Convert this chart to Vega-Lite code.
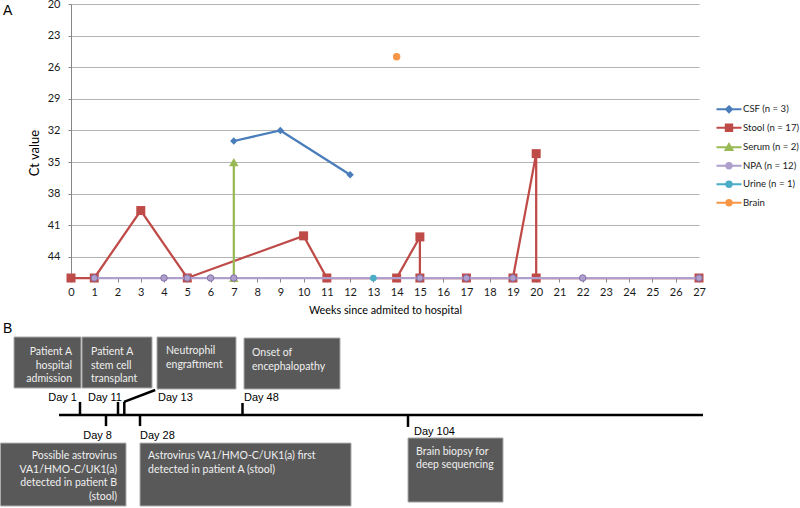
{
  "$schema": "https://vega.github.io/schema/vega-lite/v6.json",
  "background": "white",
  "padding": {"left": 0, "top": -2, "right": 0, "bottom": 0},
  "bounds": "flush",
  "spacing": 59,
  "config": {"view": {"stroke": null}, "font": "Lato"},
  "datasets": {
    "samples": [
      {"series": "CSF (n = 3)", "week": 7, "ct": 33, "seq": 1},
      {"series": "CSF (n = 3)", "week": 9, "ct": 32, "seq": 2},
      {"series": "CSF (n = 3)", "week": 12, "ct": 36.2, "seq": 3},
      {"series": "Stool (n = 17)", "week": 0, "ct": 46, "seq": 1},
      {"series": "Stool (n = 17)", "week": 1, "ct": 46, "seq": 2},
      {"series": "Stool (n = 17)", "week": 3, "ct": 39.6, "seq": 3},
      {"series": "Stool (n = 17)", "week": 5, "ct": 46, "seq": 4},
      {"series": "Stool (n = 17)", "week": 10, "ct": 42, "seq": 5},
      {"series": "Stool (n = 17)", "week": 11, "ct": 46, "seq": 6},
      {"series": "Stool (n = 17)", "week": 14, "ct": 46, "seq": 7},
      {"series": "Stool (n = 17)", "week": 15, "ct": 42.1, "seq": 8},
      {"series": "Stool (n = 17)", "week": 15, "ct": 46, "seq": 9},
      {"series": "Stool (n = 17)", "week": 17, "ct": 46, "seq": 10},
      {"series": "Stool (n = 17)", "week": 19, "ct": 46, "seq": 11},
      {"series": "Stool (n = 17)", "week": 20, "ct": 34.2, "seq": 12},
      {"series": "Stool (n = 17)", "week": 20, "ct": 46, "seq": 13},
      {"series": "Stool (n = 17)", "week": 27, "ct": 46, "seq": 14},
      {"series": "Serum (n = 2)", "week": 7, "ct": 35, "seq": 1},
      {"series": "Serum (n = 2)", "week": 7, "ct": 46, "seq": 2},
      {"series": "NPA (n = 12)", "week": 1, "ct": 46, "seq": 1},
      {"series": "NPA (n = 12)", "week": 4, "ct": 46, "seq": 2},
      {"series": "NPA (n = 12)", "week": 5, "ct": 46, "seq": 3},
      {"series": "NPA (n = 12)", "week": 6, "ct": 46, "seq": 4},
      {"series": "NPA (n = 12)", "week": 7, "ct": 46, "seq": 5},
      {"series": "NPA (n = 12)", "week": 15, "ct": 46, "seq": 6},
      {"series": "NPA (n = 12)", "week": 17, "ct": 46, "seq": 7},
      {"series": "NPA (n = 12)", "week": 19, "ct": 46, "seq": 8},
      {"series": "NPA (n = 12)", "week": 22, "ct": 46, "seq": 9},
      {"series": "NPA (n = 12)", "week": 27, "ct": 46, "seq": 10},
      {"series": "Urine (n = 1)", "week": 13, "ct": 46, "seq": 1},
      {"series": "Brain", "week": 14, "ct": 25, "seq": 1}
    ],
    "events": [
      {"day": 1, "label": "Day 1", "v0": 45.9, "v1": 38.2, "lx": 9.625, "ly": 35.9, "anchor": "end"},
      {"day": 8, "label": "Day 8", "v0": 45.9, "v1": 52.4, "lx": 14.0, "ly": 58.2, "anchor": "end"},
      {"day": 11, "label": "Day 11", "v0": 45.9, "v1": 38.2, "lx": 15.25, "ly": 35.9, "anchor": "end"},
      {"day": 13, "label": "Day 13", "v0": 45.9, "v1": 38.2, "lx": 19.75, "ly": 35.9, "anchor": "start"},
      {"day": 28, "label": "Day 28", "v0": 45.9, "v1": 52.4, "lx": 17.5, "ly": 58.2, "anchor": "start"},
      {"day": 48, "label": "Day 48", "v0": 45.9, "v1": 38.8, "lx": 30.5, "ly": 35.9, "anchor": "start"},
      {"day": 104, "label": "Day 104", "v0": 45.9, "v1": 52.9, "lx": 51.75, "ly": 55.9, "anchor": "start"}
    ],
    "boxes": [
      {"id": "b1", "x0": 1.75, "x1": 10.125, "y0": 0, "y1": 30, "tx": 9.0, "ty": 5.9, "anchor": "end", "text": "Patient A\nhospital\nadmission"},
      {"id": "b2", "x0": 10.25, "x1": 19.0, "y0": 0, "y1": 30, "tx": 11.375, "ty": 5.9, "anchor": "start", "text": "Patient A\nstem cell\ntransplant"},
      {"id": "b3", "x0": 19.625, "x1": 29.5, "y0": 0, "y1": 30.6, "tx": 20.75, "ty": 5.3, "anchor": "start", "text": "Neutrophil\nengraftment"},
      {"id": "b4", "x0": 30.5, "x1": 42.5, "y0": 0.6, "y1": 30.6, "tx": 31.5, "ty": 6.5, "anchor": "start", "text": "Onset of\nencephalopathy"},
      {"id": "b5", "x0": 0.0625, "x1": 15.75, "y0": 62.4, "y1": 99.4, "tx": 14.625, "ty": 67.1, "anchor": "end", "text": "Possible astrovirus\nVA1/HMO-C/UK1(a)\ndetected in patient B\n(stool)"},
      {"id": "b6", "x0": 17.5, "x1": 43.875, "y0": 62.4, "y1": 99.4, "tx": 18.5, "ty": 67.1, "anchor": "start", "text": "Astrovirus VA1/HMO-C/UK1(a) first\ndetected in patient A (stool)"},
      {"id": "b7", "x0": 51.0, "x1": 62.875, "y0": 59.4, "y1": 97.1, "tx": 52.0, "ty": 64.7, "anchor": "start", "text": "Brain biopsy for\ndeep sequencing"}
    ],
    "links": [
      {"kind": "timeline", "u0": 7.375, "u1": 87.875, "v0": 45.9, "v1": 45.9},
      {"kind": "connector", "u0": 15.5, "u1": 19.4, "v0": 38.2, "v1": 31.2}
    ]
  },
  "vconcat": [
    {
      "width": 628,
      "height": 274,
      "title": {"text": "A", "anchor": "start", "frame": "group", "orient": "top", "baseline": "alphabetic", "offset": 0, "dx": -68, "dy": 31, "font": "Liberation Sans", "fontSize": 14, "fontWeight": "normal", "color": "#000000"},
      "data": {"name": "samples"},
      "encoding": {
        "x": {"field": "week", "type": "quantitative", "scale": {"domain": [0, 27], "nice": false, "zero": false},
          "axis": {"values": [0,1,2,3,4,5,6,7,8,9,10,11,12,13,14,15,16,17,18,19,20,21,22,23,24,25,26,27], "title": "Weeks since admited to hospital", "grid": false, "domainColor": "#868686", "tickColor": "#868686", "tickSize": 4, "labelFont": "Lato", "labelFontSize": 11, "labelColor": "#1a1a1a", "labelPadding": 4, "labelFlush": false, "labelOverlap": false, "titleFont": "Lato", "titleFontSize": 10.8, "titleFontWeight": "normal", "titleColor": "#000000", "titlePadding": 7.5}},
        "y": {"field": "ct", "type": "quantitative", "scale": {"domain": [20, 46], "nice": false, "zero": false, "reverse": true},
          "axis": {"values": [20,23,26,29,32,35,38,41,44], "title": "Ct value", "grid": true, "gridColor": "#b4b4b4", "gridWidth": 1, "domainColor": "#868686", "tickColor": "#868686", "tickSize": 3, "labelPadding": 8, "labelFont": "Lato", "labelFontSize": 11, "labelColor": "#1a1a1a", "labelFlush": false, "titleFont": "Lato", "titleFontSize": 13, "titleFontWeight": "normal", "titleColor": "#000000", "titleX": -33, "titleY": 148.5, "titleAngle": 270, "titleBaseline": "alphabetic", "titleAlign": "center"}},
        "color": {"field": "series", "type": "nominal",
          "scale": {"domain": ["CSF (n = 3)", "Stool (n = 17)", "Serum (n = 2)", "NPA (n = 12)", "Urine (n = 1)", "Brain"], "range": ["#4A7EBB", "#BE4B48", "#98B954", "#AE9FCC", "#4BACC6", "#F79646"]},
          "legend": {"orient": "none", "legendX": 647, "legendY": 94.3, "title": null, "padding": 0, "rowPadding": 0.5, "symbolSize": 400, "labelFont": "Lato", "labelFontSize": 9.6, "labelColor": "#1a1a1a", "labelOffset": 3, "labelLimit": 120, "symbolStrokeWidth": 2,
            "encode": {"symbols": {"update": {"shape": {"scale": "shape", "field": "value"}, "fill": {"scale": "color", "field": "value"}, "stroke": {"scale": "color", "field": "value"}, "strokeWidth": {"value": 2}, "size": {"value": 400}, "opacity": {"value": 1}}}}}},
        "order": {"field": "seq", "type": "quantitative"}
      },
      "layer": [
        {"transform": [{"filter": {"field": "series", "equal": "CSF (n = 3)"}}], "mark": {"type": "line", "strokeWidth": 2.25}},
        {"transform": [{"filter": {"field": "series", "equal": "CSF (n = 3)"}}], "mark": {"type": "point", "shape": "diamond", "filled": true, "size": 55, "opacity": 1}},
        {"transform": [{"filter": {"field": "series", "equal": "Stool (n = 17)"}}], "mark": {"type": "line", "strokeWidth": 2.25}},
        {"transform": [{"filter": {"field": "series", "equal": "Stool (n = 17)"}}], "mark": {"type": "point", "shape": "square", "filled": true, "size": 81, "opacity": 1}},
        {"transform": [{"filter": {"field": "series", "equal": "Serum (n = 2)"}}], "mark": {"type": "line", "strokeWidth": 2.25}},
        {"transform": [{"filter": {"field": "series", "equal": "Serum (n = 2)"}}], "mark": {"type": "point", "shape": "triangle-up", "filled": true, "size": 90, "opacity": 1}},
        {"transform": [{"filter": {"field": "series", "equal": "NPA (n = 12)"}}], "mark": {"type": "line", "strokeWidth": 2.25}},
        {"transform": [{"filter": {"field": "series", "equal": "NPA (n = 12)"}}], "mark": {"type": "point", "shape": "circle", "filled": true, "size": 42, "opacity": 1, "stroke": "#8470A9", "strokeWidth": 1}},
        {"transform": [{"filter": {"field": "series", "equal": "Urine (n = 1)"}}], "mark": {"type": "point", "shape": "circle", "filled": true, "size": 45, "opacity": 1}},
        {"transform": [{"filter": {"field": "series", "equal": "Brain"}}], "mark": {"type": "point", "shape": "circle", "filled": true, "size": 55, "opacity": 1}},
        {"transform": [{"filter": "false"}], "mark": {"type": "point", "filled": true, "opacity": 1},
          "encoding": {"shape": {"field": "series", "type": "nominal", "legend": null,
            "scale": {"domain": ["CSF (n = 3)", "Stool (n = 17)", "Serum (n = 2)", "NPA (n = 12)", "Urine (n = 1)", "Brain"],
              "range": ["M-1.25,0H1.25M0,-0.3L0.3,0L0,0.3L-0.3,0Z", "M-1.25,0H1.25M-0.32,-0.32H0.32V0.32H-0.32Z", "M-1.25,0H1.25M0,-0.32L0.34,0.26H-0.34Z", "M-1.25,0H1.25M0.27,0A0.27,0.27,0,1,1,-0.27,0A0.27,0.27,0,1,1,0.27,0Z", "M-1.25,0H1.25M0.27,0A0.27,0.27,0,1,1,-0.27,0A0.27,0.27,0,1,1,0.27,0Z", "M-1.25,0H1.25M0.27,0A0.27,0.27,0,1,1,-0.27,0A0.27,0.27,0,1,1,0.27,0Z"]}}}}
      ]
    },
    {
      "width": 729,
      "height": 170,
      "title": {"text": "B", "anchor": "start", "frame": "group", "orient": "top", "baseline": "alphabetic", "offset": 3.5, "dx": -68, "dy": 14, "font": "Liberation Sans", "fontSize": 14, "fontWeight": "normal", "color": "#000000"},
      "resolve": {"scale": {"x": "independent"}},
      "layer": [
        {"data": {"name": "boxes"}, "mark": {"type": "rect", "fill": "#595959", "stroke": "#ababab", "strokeWidth": 1},
          "encoding": {
            "x": {"field": "x0", "type": "quantitative", "scale": {"domain": [8.875, 100], "nice": false, "zero": false}, "axis": null},
            "x2": {"field": "x1"},
            "y": {"field": "y0", "type": "quantitative", "scale": {"domain": [0, 100], "nice": false, "zero": false, "reverse": true}, "axis": null},
            "y2": {"field": "y1"}}},
        {"data": {"name": "boxes"}, "transform": [{"filter": {"field": "anchor", "equal": "end"}}],
          "mark": {"type": "text", "align": "right", "baseline": "top", "lineBreak": "\n", "lineHeight": 13.5, "font": "Lato", "fontSize": 10.5, "fill": "#f0f0f0"},
          "encoding": {
            "x": {"field": "tx", "type": "quantitative", "scale": {"domain": [8.875, 100], "nice": false, "zero": false}, "axis": null},
            "y": {"field": "ty", "type": "quantitative", "axis": null},
            "text": {"field": "text"}}},
        {"data": {"name": "boxes"}, "transform": [{"filter": {"field": "anchor", "equal": "start"}}],
          "mark": {"type": "text", "align": "left", "baseline": "top", "lineBreak": "\n", "lineHeight": 13.5, "font": "Lato", "fontSize": 10.5, "fill": "#f0f0f0"},
          "encoding": {
            "x": {"field": "tx", "type": "quantitative", "scale": {"domain": [8.875, 100], "nice": false, "zero": false}, "axis": null},
            "y": {"field": "ty", "type": "quantitative", "axis": null},
            "text": {"field": "text"}}},
        {"data": {"name": "links"}, "mark": {"type": "rule", "color": "#000000", "strokeWidth": 2.5},
          "encoding": {
            "x": {"field": "u0", "type": "quantitative", "scale": {"domain": [8.875, 100], "nice": false, "zero": false}, "axis": null},
            "x2": {"field": "u1"},
            "y": {"field": "v0", "type": "quantitative", "axis": null},
            "y2": {"field": "v1"}}},
        {"data": {"name": "events"}, "mark": {"type": "rule", "color": "#000000", "strokeWidth": 2.5},
          "encoding": {
            "x": {"field": "day", "type": "quantitative", "scale": {"domain": [1, 8, 11, 13, 28, 48, 104], "range": [9, 35, 47, 53.3, 69, 171.5, 337], "nice": false, "zero": false}, "axis": null},
            "y": {"field": "v0", "type": "quantitative", "axis": null},
            "y2": {"field": "v1"}}},
        {"data": {"name": "events"}, "transform": [{"filter": {"field": "anchor", "equal": "end"}}],
          "mark": {"type": "text", "align": "right", "baseline": "middle", "font": "Liberation Sans", "fontSize": 11, "fill": "#000000"},
          "encoding": {
            "x": {"field": "lx", "type": "quantitative", "scale": {"domain": [8.875, 100], "nice": false, "zero": false}, "axis": null},
            "y": {"field": "ly", "type": "quantitative", "axis": null},
            "text": {"field": "label"}}},
        {"data": {"name": "events"}, "transform": [{"filter": {"field": "anchor", "equal": "start"}}],
          "mark": {"type": "text", "align": "left", "baseline": "middle", "font": "Liberation Sans", "fontSize": 11, "fill": "#000000"},
          "encoding": {
            "x": {"field": "lx", "type": "quantitative", "scale": {"domain": [8.875, 100], "nice": false, "zero": false}, "axis": null},
            "y": {"field": "ly", "type": "quantitative", "axis": null},
            "text": {"field": "label"}}}
      ]
    }
  ]
}
